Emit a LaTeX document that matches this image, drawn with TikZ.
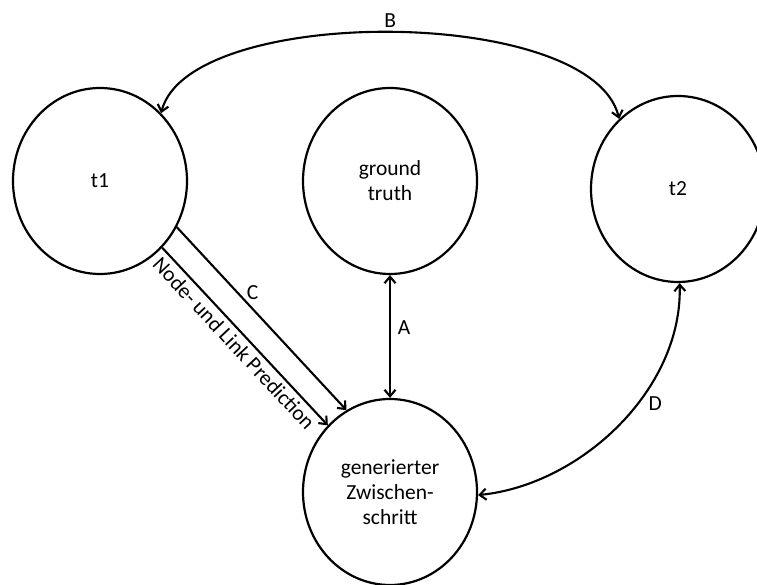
\documentclass[tikz,border=0pt]{standalone}
\usepackage{fontspec}
\setmainfont{Carlito}
\usetikzlibrary{arrows.meta, shapes.geometric}
\begin{document}
\begin{tikzpicture}[x=1pt, y=1pt,
  font=\fontsize{21.5}{25}\selectfont,
  >={Straight Barb[length=6.5pt,width=11pt]},
  state/.style={ellipse, draw, line width=2.2pt, minimum width=174pt,
    minimum height=186pt, inner sep=0pt, align=center},
  link/.style={line width=2.1pt},
  lbl/.style={inner sep=0pt}
]
\useasboundingbox (0,0) rectangle (757,585);

% states
\node[state] (t1)  at (100,404) {t1};
\node[state] (gt)  at (390,404) {ground\\truth};
\node[state] (t2)  at (678,396) {t2};
\node[state] (gen) at (390,93)  {generierter\\Zwischen-\\schritt};

% B: between the two time steps
\draw[link, <->] (t1.48) .. controls +(28,109) and +(-28,114) .. (t2.130)
  node[lbl, pos=0.5, yshift=12pt] {B};

% A: ground truth vs. generated step
\draw[link, <->] (gt.south) -- (gen.north)
  node[lbl, pos=0.43, xshift=14pt] {A};

% C: prediction from t1 to the generated step
\draw[link, ->] (t1.-31) -- (gen.118)
  node[lbl, pos=0.4, xshift=8pt, yshift=8pt] {C};
\draw[link, ->] (t1.-47) -- (gen.133)
  node[lbl, pos=0.49, sloped, below=4pt] {Node- und Link Prediction};

% D: generated step vs. t2
\draw[link, <->] (gen.-2) .. controls +(102,10) and +(3,-107) .. (t2.-89)
  node[lbl, pos=0.6, xshift=16pt, yshift=-3pt] {D};
\end{tikzpicture}
\end{document}
